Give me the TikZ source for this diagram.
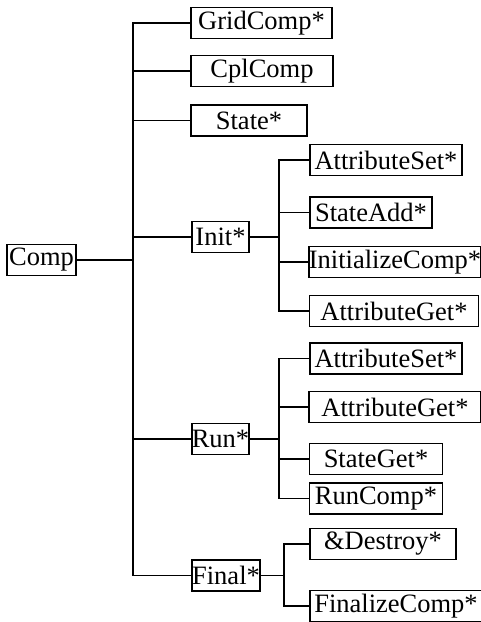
\documentclass[tikz,border=0pt]{standalone}
\usepackage{fontspec}
\setmainfont{Liberation Serif}
\usetikzlibrary{positioning}

\begin{document}
\begin{tikzpicture}  [
        x = 1pt, y = -1pt,
        box/.style = {draw, line width=1.5pt, inner sep=0pt, minimum height=31pt,
                      font=\fontsize{26.5}{28}\selectfont},
        link/.style = {line width=1.7pt}
    ]
    \useasboundingbox (0,0) rectangle (481,622);

    % top level
    \node[box, minimum width=69pt]  (comp)  at (41.5,260)  {Comp};
    \node[box, minimum width=141pt] (grid)  at (261.5,23)  {GridComp*};
    \node[box, minimum width=142pt] (cpl)   at (262,71)    {CplComp};
    \node[box, minimum width=116pt] (state) at (249,120.5) {State*};
    \node[box, minimum width=57pt]  (init)  at (220.5,237) {Init*};
    \node[box, minimum width=57pt]  (run)   at (220.5,439) {Run*};
    \node[box, minimum width=68pt]  (final) at (226,575.5) {Final*};

    % init
    \node[box, minimum width=152pt] (iaset) at (386,160)   {AttributeSet*};
    \node[box, minimum width=122pt] (iadd)  at (371,212.5) {StateAdd*};
    \node[box, minimum width=172pt] (icomp) at (395,262)   {InitializeComp*};
    \node[box, minimum width=169pt] (iaget) at (394,311)   {AttributeGet*};

    % run
    \node[box, minimum width=152pt] (raset) at (386,358.5) {AttributeSet*};
    \node[box, minimum width=172pt] (raget) at (395,407)   {AttributeGet*};
    \node[box, minimum width=133pt] (rget)  at (376,459)   {StateGet*};
    \node[box, minimum width=133pt] (rcomp) at (376,498.5) {RunComp*};

    % final
    \node[box, minimum width=146pt] (fdes)  at (383,544)   {\&Destroy*};
    \node[box, minimum width=172pt] (fcomp) at (396,606)   {FinalizeComp*};

    \coordinate (t)  at (133,260);
    \coordinate (ti) at (279,237);
    \coordinate (tr) at (279,439);
    \coordinate (tf) at (284,575.5);

    \draw[line width=2.6pt] (comp) -- (t);
    \draw[link] (t) |- (grid);
    \draw[link] (t) |- (cpl);
    \draw[link] (t) |- (state);
    \draw[link] (t) |- (init);
    \draw[link] (t) |- (run);
    \draw[link] (t) |- (final);

    \draw[link] (init) -- (ti);
    \draw[link] (ti) |- (iaset);
    \draw[link] (ti) |- (iadd);
    \draw[link] (ti) |- (icomp);
    \draw[link] (ti) |- (iaget);

    \draw[link] (run) -- (tr);
    \draw[link] (tr) |- (raset);
    \draw[link] (tr) |- (raget);
    \draw[link] (tr) |- (rget);
    \draw[link] (tr) |- (rcomp);

    \draw[link] (final) -- (tf);
    \draw[link] (tf) |- (fdes);
    \draw[link] (tf) |- (fcomp);

\end{tikzpicture}
\end{document}
